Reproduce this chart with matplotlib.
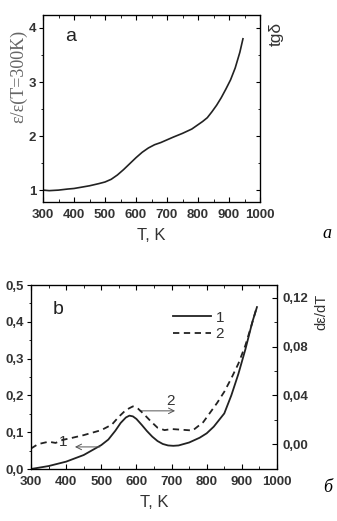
import matplotlib
matplotlib.use("Agg")
import matplotlib.pyplot as plt
import numpy as np
from matplotlib.ticker import MultipleLocator, FuncFormatter

# ---- data ----
T_a = [300, 320, 350, 380, 400, 430, 450, 480, 500, 520, 540, 560, 580, 600, 620,
       640, 660, 680, 700, 720, 750, 780, 800, 815, 830, 845, 860, 875, 890, 905,
       920, 935, 945]
eps_a = [1.00, 0.99, 1.00, 1.02, 1.03, 1.06, 1.08, 1.12, 1.15, 1.20, 1.28, 1.38,
         1.49, 1.60, 1.70, 1.78, 1.84, 1.88, 1.93, 1.98, 2.05, 2.13, 2.21, 2.27,
         2.34, 2.45, 2.57, 2.71, 2.87, 3.04, 3.26, 3.55, 3.80]

T_b1 = [300, 350, 400, 450, 500, 520, 540, 555, 570, 580, 590, 600, 615, 630, 645,
        660, 675, 690, 705, 720, 750, 780, 800, 820, 850, 870, 890, 910, 930, 943]
eps_b1 = [0.0, 0.008, 0.02, 0.038, 0.065, 0.080, 0.104, 0.125, 0.140, 0.145, 0.143,
          0.136, 0.120, 0.103, 0.088, 0.076, 0.068, 0.064, 0.063, 0.064, 0.072,
          0.085, 0.097, 0.115, 0.151, 0.200, 0.258, 0.325, 0.400, 0.440]

T_b2 = [300, 320, 350, 370, 390, 410, 450, 500, 530, 550, 570, 590, 605, 620, 640,
        660, 680, 700, 730, 760, 790, 810, 830, 850, 870, 890, 910, 930, 940]
deps_b2 = [-0.0036, 0.0, 0.002, 0.001, 0.0035, 0.0047, 0.0074, 0.0115, 0.016,
           0.0225, 0.028, 0.031, 0.029, 0.025, 0.019, 0.0135, 0.0115, 0.0124,
           0.0118, 0.0112, 0.018, 0.026, 0.034, 0.043, 0.054, 0.066, 0.081, 0.100,
           0.110]

xticks = [300, 400, 500, 600, 700, 800, 900, 1000]

W, H = 337, 521
fig = plt.figure(figsize=(W / 100, H / 100), dpi=100)
plt.rcParams['font.family'] = ['Liberation Sans', 'DejaVu Sans']

tick_color = '#333333'
comma2 = FuncFormatter(lambda v, p: ('%.2f' % v).replace('.', ','))
comma1 = FuncFormatter(lambda v, p: ('%.1f' % v).replace('.', ','))
TS = 9.5


def style_axes(ax):
    ax.tick_params(axis='x', which='both', direction='in', top=True, labelsize=TS,
                   labelcolor=tick_color, pad=5)
    ax.tick_params(axis='x', which='major', length=3.5)
    ax.tick_params(axis='x', which='minor', length=2)
    ax.tick_params(axis='y', which='both', direction='out', labelsize=TS,
                   labelcolor=tick_color, pad=2)
    ax.tick_params(axis='y', which='major', length=3)
    ax.tick_params(axis='y', which='minor', length=1.5)
    for lab in ax.get_xticklabels() + ax.get_yticklabels():
        lab.set_fontweight('bold')
    for s in ax.spines.values():
        s.set_linewidth(0.9)


# ---- top panel ----
ax1 = fig.add_axes([43 / W, 1 - 202 / H, 217 / W, 187 / H])
ax1.plot(T_a, eps_a, color='#222222', lw=1.2)
ax1.set_xlim(300, 1000)
ax1.set_ylim(0.78, 4.24)
ax1.set_xticks(xticks)
ax1.xaxis.set_minor_locator(MultipleLocator(50))
ax1.set_yticks([1, 2, 3, 4])
ax1.yaxis.set_minor_locator(MultipleLocator(0.5))
style_axes(ax1)
ax1.set_xlabel('T, K', fontsize=12, color='#333333', labelpad=5)
ax1.set_ylabel('ε/ε(T=300K)', family=['Liberation Serif', 'DejaVu Serif'],
               fontsize=13, color='#666666')
ax1.yaxis.set_label_coords(-0.072, 0.674)
ax1.text(0.10, 0.86, 'a', transform=ax1.transAxes, fontsize=14, color='#222222')
ax1r = ax1.twinx()
ax1r.set_ylim(0.78, 4.24)
ax1r.set_yticks([1, 2, 3, 4])
ax1r.yaxis.set_minor_locator(MultipleLocator(0.5))
ax1r.tick_params(axis='y', which='both', direction='in', labelright=False)
ax1r.tick_params(axis='y', which='major', length=3)
ax1r.tick_params(axis='y', which='minor', length=1.5)
ax1r.set_ylabel('tgδ', fontsize=12.5, color='#333333', rotation=90)
ax1r.yaxis.set_label_coords(1.042, 0.90)
fig.text(327 / W, 1 - 233 / H, 'a', family=['Liberation Serif'], style='italic',
         fontsize=13, ha='center', va='center')

# ---- bottom panel ----
ax2 = fig.add_axes([31 / W, 1 - 469 / H, 246 / W, 184 / H])
l1, = ax2.plot(T_b1, eps_b1, color='#222222', lw=1.3, label='1')
ax2.set_xlim(300, 1000)
ax2.set_ylim(0, 0.5)
ax2.set_xticks(xticks)
ax2.xaxis.set_minor_locator(MultipleLocator(50))
ax2.set_yticks([0, 0.1, 0.2, 0.3, 0.4, 0.5])
ax2.yaxis.set_major_formatter(comma1)
ax2.yaxis.set_minor_locator(MultipleLocator(0.05))
style_axes(ax2)
ax2.set_xlabel('T, K', fontsize=12, color='#333333', labelpad=5)
ax2.text(0.09, 0.84, 'b', transform=ax2.transAxes, fontsize=14, color='#222222')

ax2r = ax2.twinx()
l2, = ax2r.plot(T_b2, deps_b2, color='#222222', lw=1.3, ls=(0, (3.5, 2.5)), label='2')
ax2r.set_ylim(-0.0204, 0.1306)
ax2r.set_yticks([0.0, 0.04, 0.08, 0.12])
ax2r.yaxis.set_major_formatter(comma2)
ax2r.yaxis.set_minor_locator(MultipleLocator(0.02))
ax2r.tick_params(axis='y', which='both', direction='in', labelsize=TS,
                 labelcolor=tick_color, pad=4)
ax2r.tick_params(axis='y', which='major', length=3.5)
ax2r.tick_params(axis='y', which='minor', length=2)
for lab in ax2r.get_yticklabels():
    lab.set_fontweight('bold')
ax2r.set_ylabel('dε/dT', fontsize=10.5, color='#333333', rotation=90)
ax2r.yaxis.set_label_coords(1.15, 0.853)

ax2.legend([l1, l2], ['1', '2'], loc='upper left', bbox_to_anchor=(0.52, 0.935),
           frameon=False, fontsize=11, handlelength=2.5, handletextpad=0.3,
           labelspacing=0.15, labelcolor='#333333')

arrow_kw = dict(arrowstyle='->', color='#555555', lw=0.7, shrinkA=0, shrinkB=0)
ax2.annotate('', xy=(425, 0.06), xytext=(496, 0.06), arrowprops=arrow_kw)
ax2.text(391, 0.073, '1', fontsize=11, color='#333333', ha='center', va='center')
ax2.annotate('', xy=(710, 0.158), xytext=(610, 0.158), arrowprops=arrow_kw)
ax2.text(696, 0.184, '2', fontsize=11, color='#333333', ha='center', va='center')

fig.text(328 / W, 1 - 488 / H, 'б', family=['Liberation Serif'], style='italic',
         fontsize=13, ha='center', va='center')

fig.savefig('out.png', dpi=100)
